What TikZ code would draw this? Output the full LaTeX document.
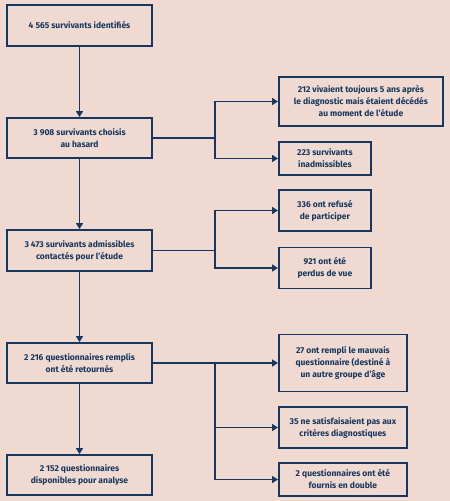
\documentclass[tikz,border=0pt]{standalone}
\usepackage{fontspec}
\setsansfont{Fira Sans}
\usepackage{tikz}
\usetikzlibrary{positioning,arrows.meta}
\definecolor{cBack}{HTML}{EFD9D1}
\definecolor{cNavy}{HTML}{17375E}
\tikzset{
  blk/.style={draw=cNavy, line width=1.8pt, align=center, text=cNavy,
              inner sep=2pt, font=\sffamily\bfseries\fontsize{8.5}{12}\selectfont},
  mainb/.style={blk, minimum width=145pt, minimum height=40pt},
  sideb/.style={blk, anchor=west},
  ln/.style={cNavy, line width=1.8pt},
  ar/.style={ln, -{Triangle[length=6pt, width=7pt]}},
}

\begin{document}
\begin{tikzpicture}[x=1pt, y=-1pt]
    \fill[cBack] (0,0) rectangle (450,501);
    \useasboundingbox (0,0) rectangle (450,501);

    % main column
    \node[mainb, minimum height=41pt] (b1) at (79.5,25.5) {4 565 survivants identifiés};
    \node[mainb] (b2) at (79.5,138) {3 908 survivants choisis\\ au hasard};
    \node[mainb, minimum height=41pt] (b3) at (79.5,250.5) {3 473 survivants admissibles\\ contactés pour l'étude};
    \node[mainb] (b4) at (79.5,363) {2 216 questionnaires remplis\\ ont été retournés};
    \node[mainb] (b5) at (79.5,475) {2 152 questionnaires\\ disponibles pour analyse};
    \draw[ar] (b1) -- (b2); \draw[ar] (b2) -- (b3); \draw[ar] (b3) -- (b4); \draw[ar] (b4) -- (b5);

    % exclusions after random choice
    \node[sideb, minimum width=164pt, minimum height=49pt] (r1) at (278,101.5) {212 vivaient toujours 5 ans après\\ le diagnostic mais étaient décédés\\ au moment de l'étude};
    \node[sideb, minimum width=92pt, minimum height=33pt] (r2) at (278,158.5) {223 survivants\\ inadmissibles};
    \coordinate (j1) at (215,138);
    \draw[ln] (b2.east) -- (j1);
    \draw[ar] (j1) |- (r1.west); \draw[ar] (j1) |- (r2.west);

    % exclusions after contact
    \node[sideb, minimum width=92pt, minimum height=41pt] (r3) at (278,210.5) {336 ont refusé\\ de participer};
    \node[sideb, minimum width=92pt, minimum height=41pt] (r4) at (278,268) {921 ont été\\ perdus de vue};
    \coordinate (j2) at (215,250.5);
    \draw[ln] (b3.east) -- (j2);
    \draw[ar] (j2) |- (r3.west); \draw[ar] (j2) |- (r4.west);

    % questionnaires set aside
    \node[sideb, minimum width=128pt, minimum height=57pt] (r5) at (278,363) {27 ont rempli le mauvais\\ questionnaire (destiné à\\ un autre groupe d'âge};
    \node[sideb, minimum width=128pt, minimum height=41pt] (r6) at (278,427.5) {35 ne satisfaisaient pas aux\\ critères diagnostiques};
    \node[sideb, minimum width=128pt, minimum height=33pt] (r7) at (278,479.5) {2 questionnaires ont été\\ fournis en double};
    \coordinate (j3) at (215,363);
    \draw[ar] (b4.east) -- (r5.west);
    \draw[ar] (j3) |- (r6.west); \draw[ar] (j3) |- (r7.west);
  \end{tikzpicture}
\end{document}
